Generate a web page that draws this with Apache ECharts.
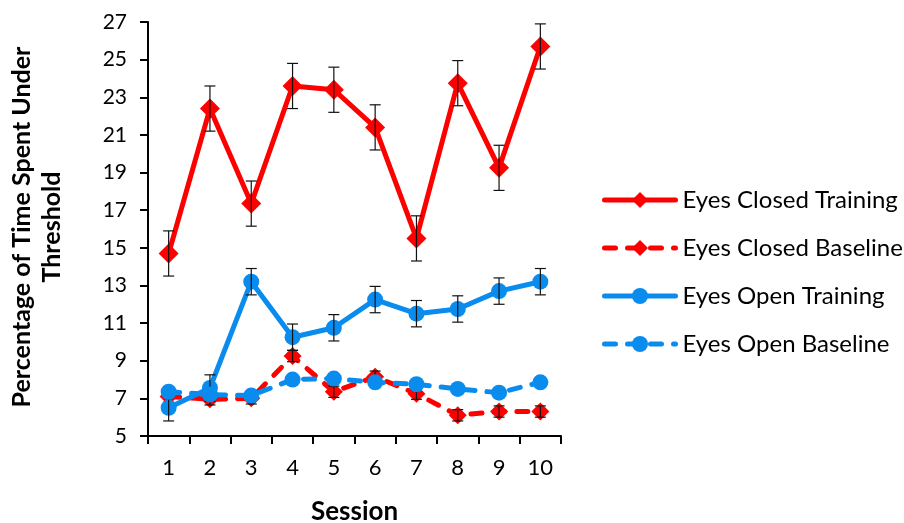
<!DOCTYPE html>
<html>
<head>
<meta charset="utf-8">
<script src="https://cdn.jsdelivr.net/npm/echarts@6/dist/echarts.min.js"></script>
<style>html,body{margin:0;padding:0;background:#fff;}#c{width:904px;height:523px;}</style>
</head>
<body>
<div id="c"></div>
<script>
var sessions = ['1','2','3','4','5','6','7','8','9','10'];
var seriesNames = ['Eyes Closed Training','Eyes Closed Baseline','Eyes Open Training','Eyes Open Baseline'];
var closedTraining = [14.7, 22.4, 17.35, 23.6, 23.4, 21.4, 15.5, 23.75, 19.25, 25.7];
var closedTrainingErr = [1.2, 1.2, 1.2, 1.2, 1.2, 1.2, 1.2, 1.2, 1.2, 1.2];
var closedBaseline = [7.1, 6.95, 7.0, 9.25, 7.35, 8.15, 7.25, 6.1, 6.3, 6.3];
var closedBaselineErr = [0.3, 0.3, 0.3, 0.3, 0.3, 0.3, 0.3, 0.3, 0.3, 0.3];
var openTraining = [6.5, 7.55, 13.2, 10.25, 10.75, 12.25, 11.5, 11.75, 12.7, 13.2];
var openTrainingErr = [0.7, 0.7, 0.7, 0.7, 0.7, 0.7, 0.7, 0.7, 0.7, 0.7];
var openBaseline = [7.35, 7.2, 7.15, 8.0, 8.05, 7.85, 7.75, 7.5, 7.3, 7.85];

var RED = '#FF0000', BLUE = '#0A8CEE';
var FONT = 'Lato';

function errData(vals, errs) {
  return vals.map(function (v, i) { return [i, v, errs[i]]; });
}
function errRender(params, api) {
  var i = api.value(0), v = api.value(1), e = api.value(2);
  var top = api.coord([i, v + e]);
  var bot = api.coord([i, v - e]);
  var hw = 5.5;
  var st = { stroke: '#111', lineWidth: 1.2 };
  return {
    type: 'group',
    children: [
      { type: 'line', shape: { x1: top[0], y1: top[1], x2: bot[0], y2: bot[1] }, style: st },
      { type: 'line', shape: { x1: top[0] - hw, y1: top[1], x2: top[0] + hw, y2: top[1] }, style: st },
      { type: 'line', shape: { x1: bot[0] - hw, y1: bot[1], x2: bot[0] + hw, y2: bot[1] }, style: st }
    ]
  };
}
function lineSeries(name, data, color, symbol, size, dashed, z) {
  return {
    name: name, type: 'line', data: data, z: z,
    symbol: symbol, symbolSize: size, showSymbol: true,
    itemStyle: { color: color },
    lineStyle: { color: color, width: 5, type: dashed ? [11, 12] : 'solid', cap: dashed ? 'round' : 'butt' },
    emphasis: { disabled: true }, animation: false
  };
}
function errSeries(vals, errs, z) {
  return {
    type: 'custom', renderItem: errRender, data: errData(vals, errs), z: z,
    encode: { x: 0, y: 1 }, silent: true, animation: false
  };
}

var chart = echarts.init(document.getElementById('c'));
chart.setOption({
  backgroundColor: '#fff',
  animation: false,
  textStyle: { fontFamily: FONT },
  grid: { left: 148, right: 343, top: 22, bottom: 87, outerBoundsMode: 'none', containLabel: false },
  xAxis: {
    type: 'category', data: sessions, boundaryGap: true,
    axisLine: { lineStyle: { color: '#000', width: 2 } },
    axisTick: { show: true, length: 8, lineStyle: { color: '#000', width: 2 } },
    axisLabel: { color: '#000', fontSize: 22, fontFamily: FONT, margin: 21 },
    name: 'Session', nameLocation: 'middle', nameGap: 63,
    nameTextStyle: { color: '#000', fontSize: 26, fontWeight: 'bold', fontFamily: FONT },
    splitLine: { show: false }
  },
  yAxis: {
    type: 'value', min: 5, max: 27, interval: 2,
    axisLine: { show: true, lineStyle: { color: '#000', width: 2 } },
    axisTick: { show: true, length: 8, lineStyle: { color: '#000', width: 2 } },
    axisLabel: { color: '#000', fontSize: 21, fontFamily: FONT, margin: 21 },
    splitLine: { show: false }
  },
  graphic: [{
    type: 'text', x: 37, y: 227, rotation: Math.PI / 2,
    style: {
      text: 'Percentage of Time Spent Under\nThreshold',
      font: 'bold 25px ' + FONT, fill: '#000', align: 'center', verticalAlign: 'middle', lineHeight: 30
    }
  }],
  legend: {
    orient: 'vertical', left: 597, top: 183, padding: 5,
    itemWidth: 71, itemHeight: 20, itemGap: 24,
    data: seriesNames,
    lineStyle: { width: 5, cap: 'round' },
    textStyle: { color: '#000', fontSize: 24, lineHeight: 24, fontFamily: FONT, padding: [0, 0, 0, 2] },
    selectedMode: false
  },
  series: [
    lineSeries(seriesNames[0], closedTraining, RED, 'diamond', 20, false, 2),
    errSeries(closedTraining, closedTrainingErr, 3),
    lineSeries(seriesNames[1], closedBaseline, RED, 'diamond', 18, true, 4),
    errSeries(closedBaseline, closedBaselineErr, 5),
    lineSeries(seriesNames[2], openTraining, BLUE, 'circle', 16, false, 6),
    errSeries(openTraining, openTrainingErr, 7),
    lineSeries(seriesNames[3], openBaseline, BLUE, 'circle', 16, true, 8)
  ]
});
</script>
</body>
</html>
